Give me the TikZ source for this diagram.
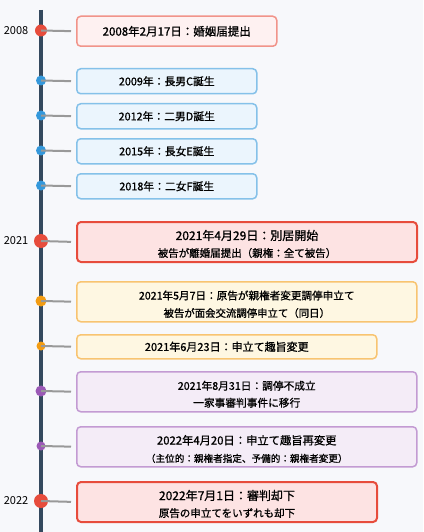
\documentclass[tikz,border=0pt]{standalone}
\usepackage{fontspec}
\setmainfont{Noto Sans CJK JP}
\newfontfamily\jpb[FakeBold=1]{Noto Sans CJK JP}
\newcommand{\fsz}[1]{\fontsize{#1}{#1}\selectfont}
\newcommand{\lowstrut}{\rule{0pt}{14pt}}
\definecolor{bgc}{HTML}{F7F8FB}
\definecolor{axisc}{HTML}{34495E}
\definecolor{connc}{HTML}{999999}
\definecolor{redc}{HTML}{E74C3C}
\definecolor{redfill}{HTML}{FDE3E3}
\definecolor{pinkc}{HTML}{F1948A}
\definecolor{pinkfill}{HTML}{FEF1F1}
\definecolor{bluec}{HTML}{3498DB}
\definecolor{blueb}{HTML}{85C1E9}
\definecolor{bluefill}{HTML}{EBF5FD}
\definecolor{orangec}{HTML}{F39C12}
\definecolor{orangeb}{HTML}{F8C471}
\definecolor{orangefill}{HTML}{FEF7E2}
\definecolor{purplec}{HTML}{9B59B6}
\definecolor{purpleb}{HTML}{C39BD3}
\definecolor{purplefill}{HTML}{F4ECF7}
\tikzset{
  box/.style={draw, rounded corners=4pt, line width=1.5pt, anchor=north west,
    inner sep=0pt, align=center, font=\jpb, text=black},
  pinkbox/.style={box, draw=pinkc, fill=pinkfill},
  bluebox/.style={box, draw=blueb, fill=bluefill},
  redbox/.style={box, draw=redc, fill=redfill, line width=2pt},
  orangebox/.style={box, draw=orangeb, fill=orangefill},
  purplebox/.style={box, draw=purpleb, fill=purplefill},
  dot/.style={circle, inner sep=0pt, draw=none},
  conn/.style={draw=connc, line width=2pt, shorten >=5pt},
  yearlbl/.style={font=\fsz{11}, text=black, inner sep=0pt},
}
\begin{document}
\begin{tikzpicture}[x=1pt,y=-1pt]
\fill[bgc] (0,0) rectangle (423,532);
\useasboundingbox (0,0) rectangle (423,532);
\coordinate (axtop) at (41,10);
\coordinate (axbot) at (41,532);
\draw[axisc, line width=3.5pt] (axtop) -- (axbot);

% boxes
\node[pinkbox, minimum width=200pt, minimum height=30pt] (b1) at (76,15.5) {\fsz{11.5}2008年2月17日：婚姻届提出};
\node[bluebox, minimum width=180pt, minimum height=25pt] (b2) at (76,68) {\fsz{10.8}2009年：長男C誕生};
\node[bluebox, minimum width=180pt, minimum height=25pt] (b3) at (76,103) {\fsz{10.8}2012年：二男D誕生};
\node[bluebox, minimum width=180pt, minimum height=25pt] (b4) at (76,138) {\fsz{10.8}2015年：長女E誕生};
\node[bluebox, minimum width=180pt, minimum height=25pt] (b5) at (76,173) {\fsz{10.8}2018年：二女F誕生};
\node[redbox, minimum width=340pt, minimum height=40pt] (b6) at (76,221) {\lowstrut\fsz{12}2021年4月29日：別居開始\\[5pt]\fsz{10.5}被告が離婚届提出（親権：全て被告）};
\node[orangebox, minimum width=340pt, minimum height=40pt] (b7) at (76,281) {\lowstrut\fsz{10.6}2021年5月7日：原告が親権者変更調停申立て\\[5.5pt]\fsz{10.4}被告が面会交流調停申立て（同日）};
\node[orangebox, minimum width=300pt, minimum height=24pt] (b8) at (76,334) {\fsz{11}2021年6月23日：申立て趣旨変更};
\node[purplebox, minimum width=340pt, minimum height=40pt] (b9) at (76,371) {\lowstrut\fsz{10.7}2021年8月31日：調停不成立\\[5pt]\fsz{10.7}一家事審判事件に移行};
\node[purplebox, minimum width=340pt, minimum height=40pt] (b10) at (76,426) {\lowstrut\fsz{11.3}2022年4月20日：申立て趣旨再変更\\[5.5pt]\fsz{9.6}（主位的：親権者指定、予備的：親権者変更）};
\node[redbox, minimum width=300pt, minimum height=40pt] (b11) at (76,481) {\lowstrut\fsz{12}2022年7月1日：審判却下\\[5pt]\fsz{10.5}原告の申立てをいずれも却下};

% dots
\node[dot, fill=redc, minimum size=12pt] (d1) at (41,30.5) {};
\node[dot, fill=bluec, minimum size=10pt] (d2) at (41,80.5) {};
\node[dot, fill=bluec, minimum size=10pt] (d3) at (41,115.5) {};
\node[dot, fill=bluec, minimum size=10pt] (d4) at (41,150.5) {};
\node[dot, fill=bluec, minimum size=10pt] (d5) at (41,185.5) {};
\node[dot, fill=redc, minimum size=14pt] (d6) at (41,241) {};
\node[dot, fill=orangec, minimum size=11pt] (d7) at (41,301) {};
\node[dot, fill=orangec, minimum size=9pt] (d8) at (41,346) {};
\node[dot, fill=purplec, minimum size=11pt] (d9) at (41,391) {};
\node[dot, fill=purplec, minimum size=9pt] (d10) at (41,446) {};
\node[dot, fill=redc, minimum size=14pt] (d11) at (41,501) {};

% connectors
\foreach \i in {1,...,11} { \draw[conn] (d\i.center) -- (b\i.west); }

% year labels
\node[yearlbl] (y1) at (16,31) {2008};
\node[yearlbl] (y2) at (16,241) {2021};
\node[yearlbl] (y3) at (16,501) {2022};
\end{tikzpicture}
\end{document}
